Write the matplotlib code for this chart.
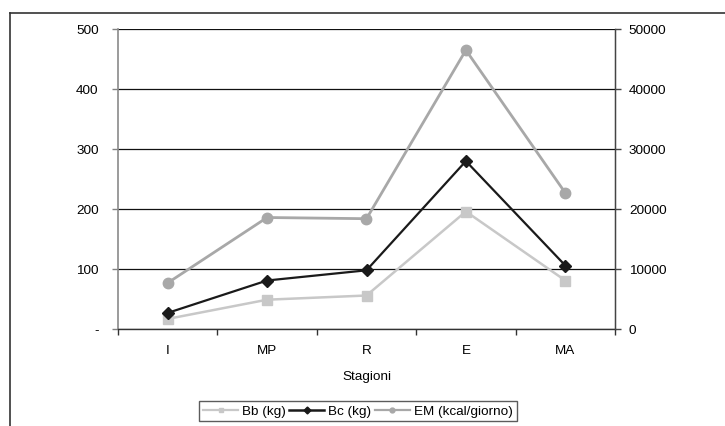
import matplotlib
matplotlib.use("Agg")
import matplotlib.pyplot as plt
from matplotlib.lines import Line2D

plt.rcParams['font.family'] = ['Liberation Sans', 'DejaVu Sans']

stagioni = ["I", "MP", "R", "E", "MA"]
bb_kg = [16, 48, 55, 195, 80]
bc_kg = [26, 80, 97, 279, 105]
em_kcal = [7600, 18500, 18300, 46400, 22600]

left_ticks = [0, 100, 200, 300, 400, 500]
left_labels = ["-", "100", "200", "300", "400", "500"]
right_ticks = [0, 10000, 20000, 30000, 40000, 50000]

c_bb = "#c8c8c8"
c_bc = "#1a1a1a"
c_em = "#a8a8a8"
fs = 9.7

fig = plt.figure(figsize=(7.25, 4.27), dpi=100)
ax = fig.add_axes([118 / 725, 1 - 329.5 / 427, (615 - 118) / 725, 300 / 427])
ax2 = ax.twinx()

x = list(range(len(stagioni)))
ax.plot(x, bb_kg, color=c_bb, lw=1.8, marker="s", ms=6.5, zorder=3, clip_on=False)
ax.plot(x, bc_kg, color=c_bc, lw=1.6, marker="D", ms=6, zorder=4, clip_on=False)
ax2.plot(x, em_kcal, color=c_em, lw=2.0, marker="o", ms=7.5, zorder=3, clip_on=False)

ax.set_xlim(-0.5, len(stagioni) - 0.5)
ax.set_ylim(0, 500)
ax2.set_ylim(0, 50000)

ax.set_yticks(left_ticks)
ax.set_yticklabels(left_labels)
ax2.set_yticks(right_ticks)
ax2.set_yticklabels([str(v) for v in right_ticks])

ax.set_xticks(x)
ax.set_xticklabels(stagioni)
ax.set_xticks([i - 0.5 for i in range(len(stagioni) + 1)], minor=True)
ax.tick_params(axis="x", which="major", length=0, pad=11, labelsize=fs)
ax.tick_params(axis="x", which="minor", length=4, width=1, color="#333333")
ax.tick_params(axis="y", length=4, width=1, color="#808080", pad=10, labelsize=fs)
ax2.tick_params(axis="y", length=4, width=1, color="#444444", pad=6, labelsize=fs)

ax.yaxis.grid(True, color="#111111", lw=0.9)
ax.set_axisbelow(True)

for a in (ax, ax2):
    a.spines["top"].set_visible(False)
ax.spines["left"].set_color("#8a8a8a")
ax.spines["left"].set_linewidth(1.2)
ax.spines["bottom"].set_color("#333333")
ax.spines["bottom"].set_linewidth(1.0)
ax2.spines["right"].set_color("#444444")
ax2.spines["right"].set_linewidth(1.0)
ax2.spines["left"].set_visible(False)
ax2.spines["bottom"].set_visible(False)

ax.set_xlabel("Stagioni", fontsize=fs, labelpad=10)

handles = [
    Line2D([], [], color=c_bb, lw=1.6, marker="s", ms=3.5),
    Line2D([], [], color=c_bc, lw=1.8, marker="D", ms=3.5),
    Line2D([], [], color=c_em, lw=1.6, marker="o", ms=3.5),
]
leg = fig.legend(handles, ["Bb (kg)", "Bc (kg)", "EM (kcal/giorno)"],
                 loc="center", bbox_to_anchor=(358 / 725, 1 - 412 / 427),
                 ncol=3, fontsize=fs, frameon=True, fancybox=False,
                 handlelength=2.6, handletextpad=0.3, columnspacing=0.25,
                 borderpad=0.3, borderaxespad=0)
leg.get_frame().set_edgecolor("#333333")
leg.get_frame().set_linewidth(1.0)

# outer chart frame (open on the right and bottom)
fig.add_artist(Line2D([10 / 725, 10 / 725], [0, 1 - 14 / 427], transform=fig.transFigure,
                      color="#333333", lw=1.2))
fig.add_artist(Line2D([10 / 725, 1], [1 - 14 / 427, 1 - 14 / 427], transform=fig.transFigure,
                      color="#333333", lw=1.2))

fig.savefig("out.png", dpi=100)
